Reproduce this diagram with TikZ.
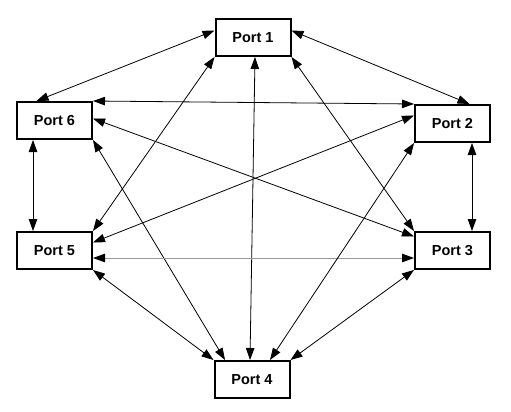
\documentclass[tikz,border=0pt]{standalone}
\usepackage{fontspec}
\setmainfont{Liberation Sans}
\usetikzlibrary{arrows.meta,calc}

\begin{document}
\begin{tikzpicture}[
		x=1pt,y=-1pt,
		<->,
		>={Triangle[length=12pt,width=8.5pt,color=black]},
		line width=0.8pt,
		port node/.style={rectangle,draw,line width=2pt,minimum width=75pt,minimum height=37pt,inner sep=0pt,fill=white,font=\fontsize{14.5}{17}\selectfont\bfseries}]

	\useasboundingbox (0,0) rectangle (511,412);

	\node[port node] (p1) at (253,37.5) {Port 1};
	\node[port node] (p6) at (54.5,120.5) {Port 6};
	\node[port node] (p2) at (452.5,123.5) {Port 2};
	\node[port node] (p5) at (54.5,250.5) {Port 5};
	\node[port node] (p3) at (452.5,250.5) {Port 3};
	\node[port node] (p4) at (252,379.5) {Port 4};

	\path
		([yshift=7pt]p1.west) edge ([xshift=-18pt]p6.north)
		([yshift=7pt]p1.east) edge ([xshift=17pt]p2.north)
		([xshift=2pt]p1.south) edge ([xshift=-2pt]p4.north)
		(p1.south west) edge (p5.north east)
		(p1.south east) edge (p3.north west)

		(p6.north east) edge (p2.north west)
		([yshift=2pt]p6.east) edge ([yshift=14pt]p3.west)
		(p6.south east) edge ([xshift=-27pt]p4.north)
		([xshift=-21.5pt]p6.south) edge ([xshift=-21.5pt]p5.north)

		([yshift=8pt]p5.east) edge ([yshift=8pt]p2.west)
		([yshift=-7.5pt]p5.east) edge[draw=black!40,line width=1pt] ([yshift=-7.5pt]p3.west)
		(p5.south east) edge (p4.north west)

		(p2.south west) edge ([xshift=18pt]p4.north)
		([xshift=19.5pt]p2.south) edge ([xshift=19.5pt]p3.north)
		(p3.south west) edge (p4.north east)
	;
\end{tikzpicture}
\end{document}
